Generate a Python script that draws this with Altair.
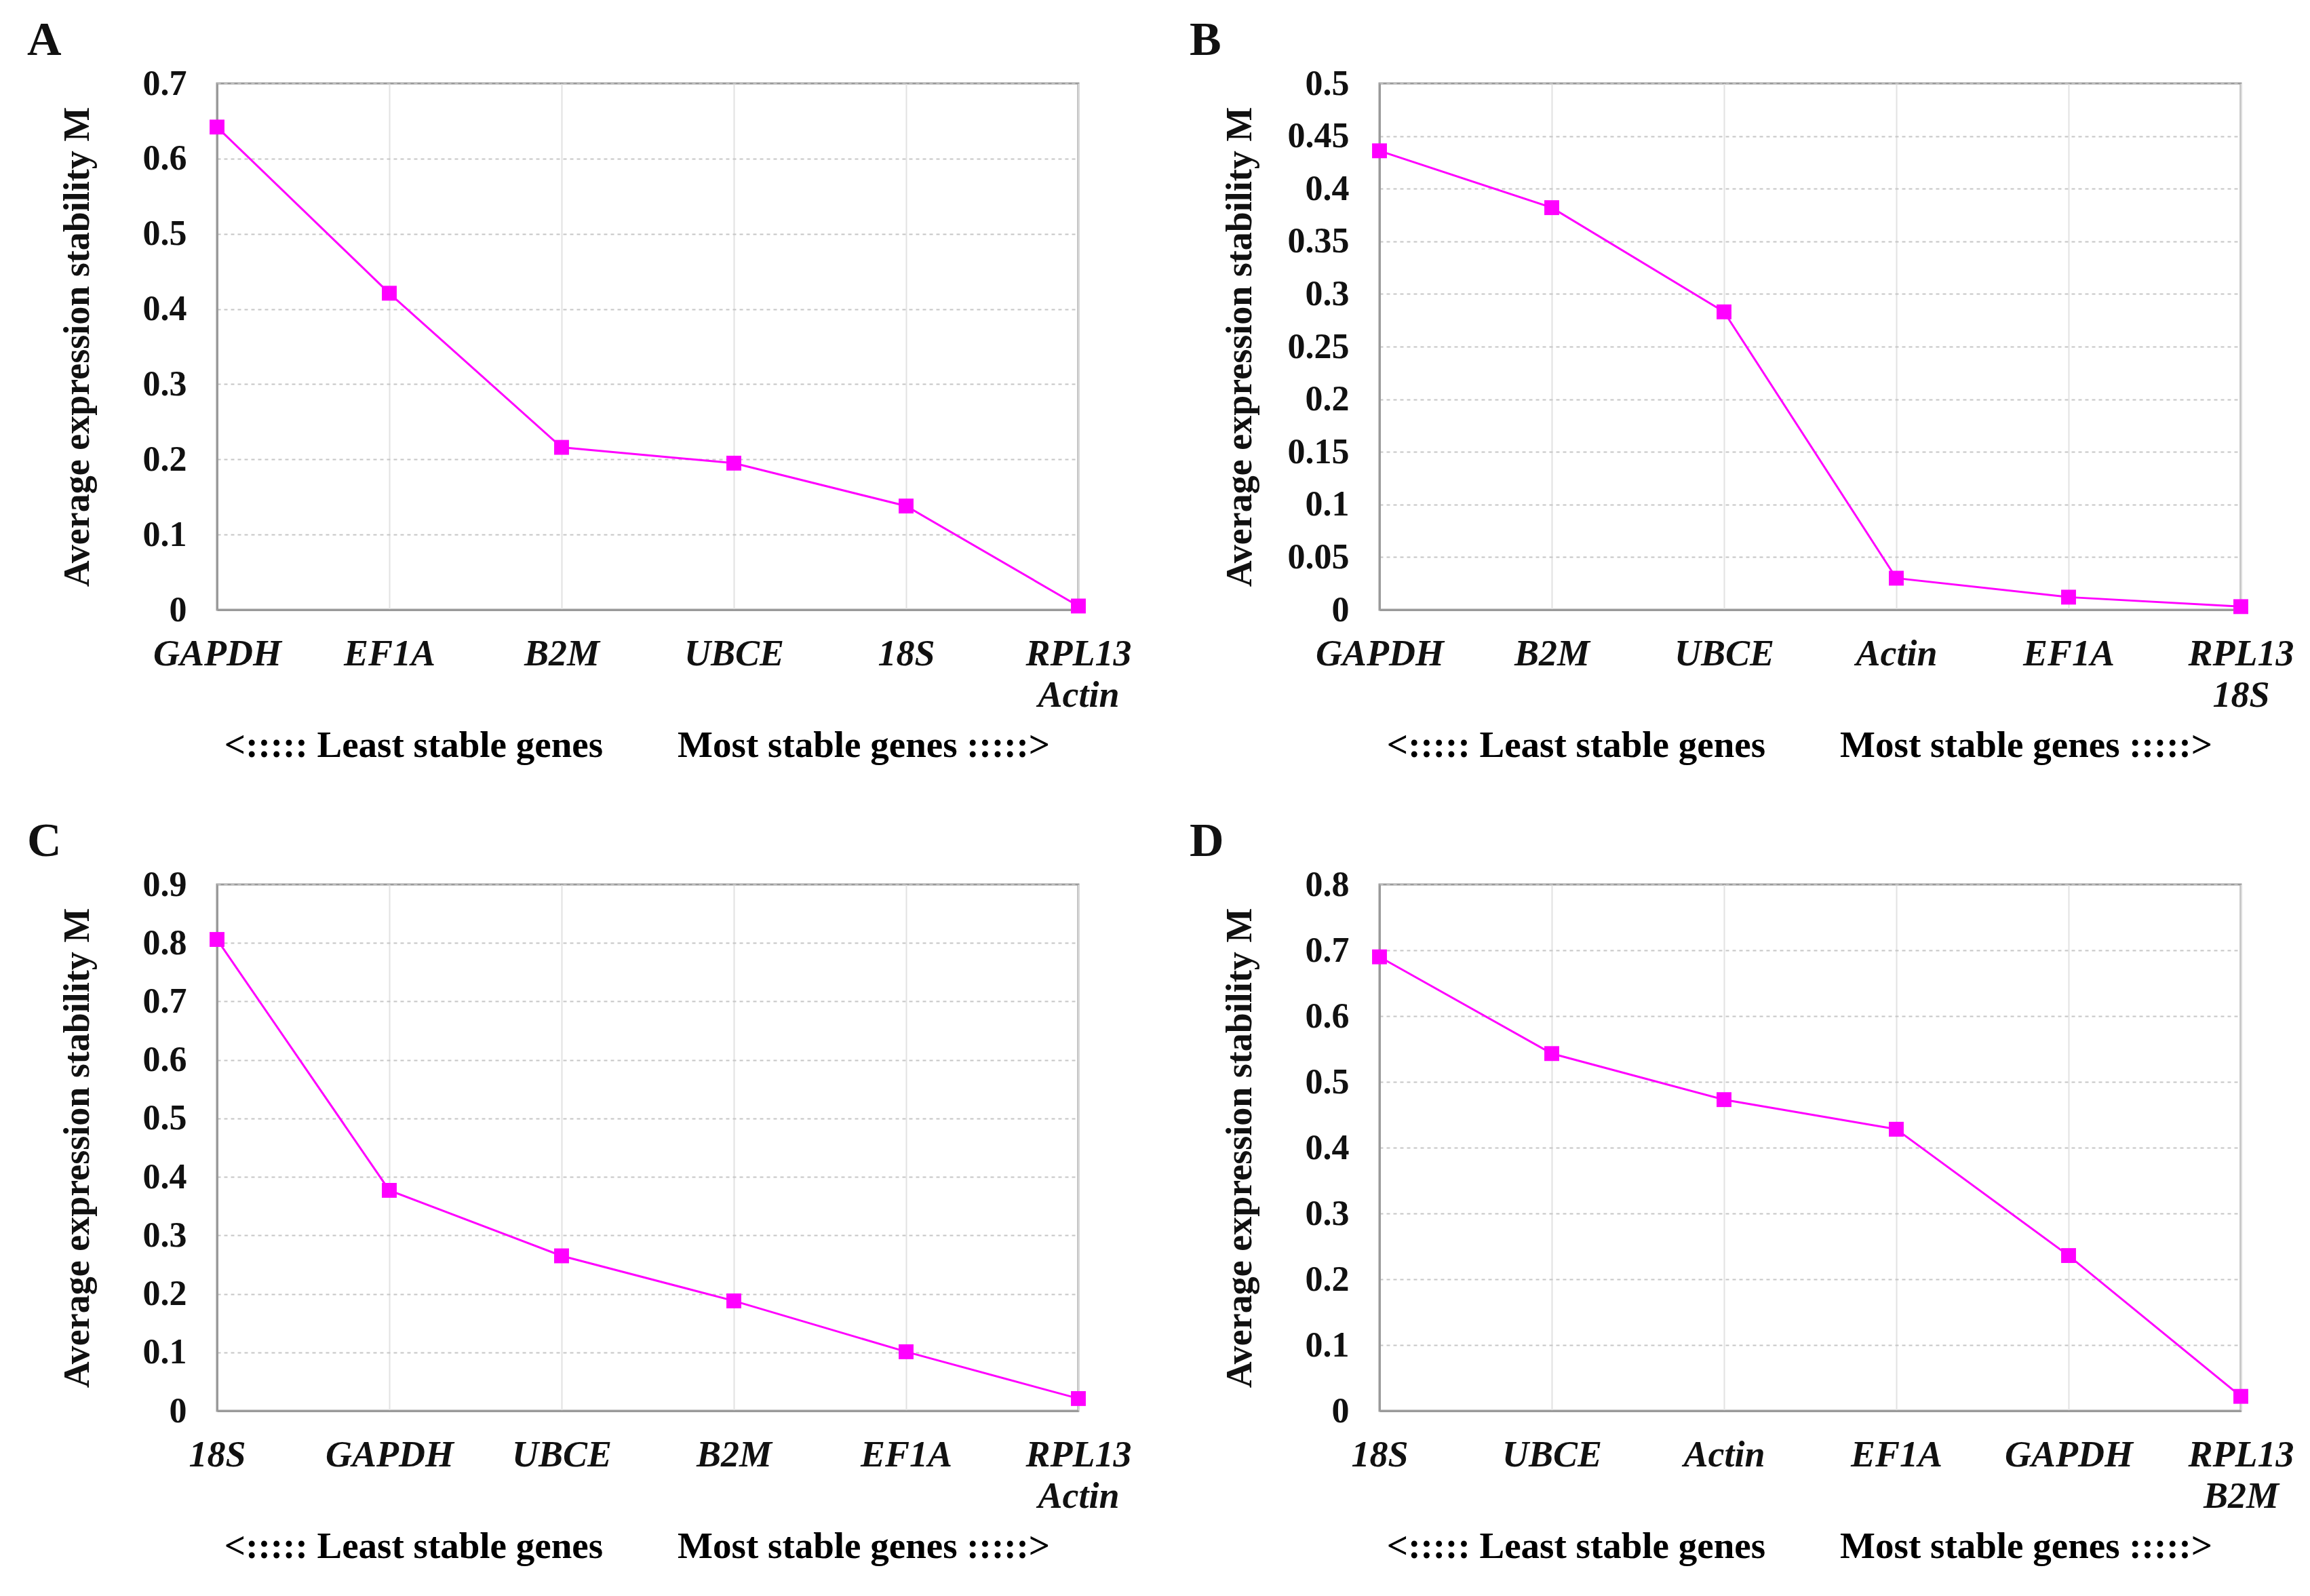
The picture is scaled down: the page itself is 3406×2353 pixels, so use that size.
import altair as alt
import pandas as pd

# ---------------- data ----------------
genes_A = ["GAPDH", "EF1A", "B2M", "UBCE", "18S", "RPL13|Actin"]
m_A = [0.642, 0.421, 0.216, 0.195, 0.138, 0.005]
ticks_A = [0, 0.1, 0.2, 0.3, 0.4, 0.5, 0.6, 0.7]

genes_B = ["GAPDH", "B2M", "UBCE", "Actin", "EF1A", "RPL13|18S"]
m_B = [0.436, 0.382, 0.283, 0.030, 0.012, 0.003]
ticks_B = [0, 0.05, 0.1, 0.15, 0.2, 0.25, 0.3, 0.35, 0.4, 0.45, 0.5]

genes_C = ["18S", "GAPDH", "UBCE", "B2M", "EF1A", "RPL13|Actin"]
m_C = [0.806, 0.377, 0.265, 0.188, 0.101, 0.021]
ticks_C = [0, 0.1, 0.2, 0.3, 0.4, 0.5, 0.6, 0.7, 0.8, 0.9]

genes_D = ["18S", "UBCE", "Actin", "EF1A", "GAPDH", "RPL13|B2M"]
m_D = [0.690, 0.543, 0.473, 0.428, 0.236, 0.022]
ticks_D = [0, 0.1, 0.2, 0.3, 0.4, 0.5, 0.6, 0.7, 0.8]

letters = ["A", "B", "C", "D"]
y_title = "Average expression stability M"
x_caption = "<::::: Least stable genes" + "\u00a0" * 8 + "Most stable genes :::::>"

FONT = "Liberation Serif"
MAGENTA = "#ff00ff"
FRAME = "#9a9a9a"
W, H = 1270, 776


def panel(letter, genes, m, ticks):
    df = pd.DataFrame({"gene": genes, "M": m})
    x = alt.X(
        "gene:N",
        sort=genes,
        scale=alt.Scale(type="point", padding=0),
        axis=alt.Axis(
            title=x_caption,
            titleFont=FONT,
            titleFontSize=55,
            titleFontWeight="bold",
            titleX=619,
            titleY=216,
            titleAlign="center",
            titleBaseline="alphabetic",
            labelFont=FONT,
            labelFontSize=54,
            labelFontWeight="bold",
            labelFontStyle="italic",
            labelColor="#111111",
            labelExpr="split(datum.label, '|')",
            labelLineHeight=61,
            labelPadding=38,
            labelAngle=0,
            labelLimit=0,
            labelOverlap=False,
            labelFlush=False,
            ticks=False,
            grid=True,
            gridColor="#e2e2e2",
            gridWidth=2,
            domainColor=FRAME,
            domainWidth=3,
        ),
    )
    y = alt.Y(
        "M:Q",
        scale=alt.Scale(domain=[0, ticks[-1]], nice=False, zero=True),
        axis=alt.Axis(
            title=y_title,
            titleFont=FONT,
            titleFontSize=54,
            titleFontWeight="bold",
            titleX=-190,
            titleBaseline="alphabetic",
            titleAngle=270,
            titleColor="#111111",
            values=ticks,
            format=".2~f",
            labelFont=FONT,
            labelFontSize=52,
            labelFontWeight="bold",
            labelColor="#111111",
            labelPadding=45,
            labelOverlap=False,
            labelFlush=False,
            ticks=False,
            grid=True,
            gridColor="#c6c6c6",
            gridDash=[5, 5],
            gridWidth=2,
            domainColor=FRAME,
            domainWidth=3,
        ),
    )
    base = alt.Chart(df).encode(x=x, y=y)
    line = base.mark_line(color=MAGENTA, strokeWidth=3)
    pts = base.mark_point(shape="square", size=480, filled=True,
                          color=MAGENTA, opacity=1)
    return alt.layer(line, pts).properties(
        width=W,
        height=H,
        title=alt.TitleParams(
            text=letter,
            anchor="start",
            frame="group",
            dx=-280,
            dy=64,
            offset=10,
            baseline="alphabetic",
            font=FONT,
            fontSize=70,
            fontWeight="bold",
            color="#111111",
        ),
    )


panels = [
    panel(letters[0], genes_A, m_A, ticks_A),
    panel(letters[1], genes_B, m_B, ticks_B),
    panel(letters[2], genes_C, m_C, ticks_C),
    panel(letters[3], genes_D, m_D, ticks_D),
]

chart = (
    alt.concat(*panels, columns=2, spacing={"row": 405, "column": 444}, bounds="flush")
    .properties(padding={"left": 30, "top": 15, "right": 5, "bottom": 5}, background="white")
    .configure_view(stroke=FRAME, strokeWidth=3)
)

chart.save("out.html", embed_options={"renderer": "svg", "actions": False})
